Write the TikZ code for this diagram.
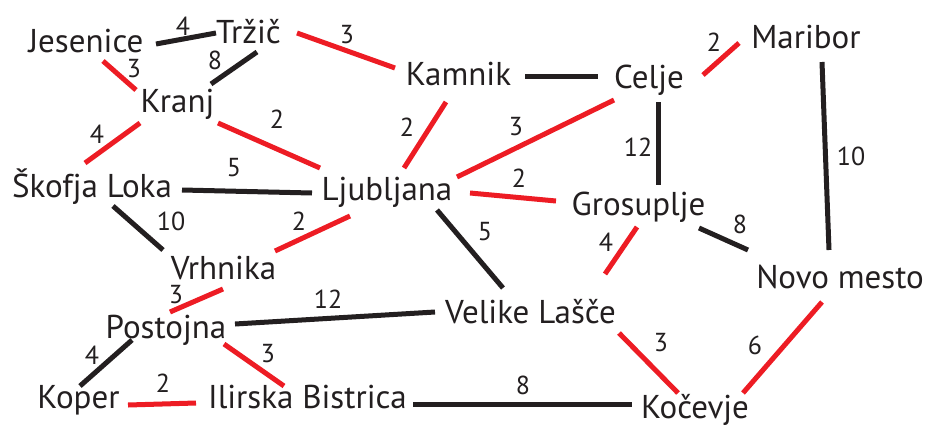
\documentclass[tikz,border=0pt]{standalone}
\usepackage{fontspec}
\setmainfont{PT Sans}
\definecolor{roadred}{HTML}{ED1C24}
\definecolor{roadblack}{HTML}{231F20}
% a road between two towns, ends given as offsets from each town's base point
\newcommand{\roadlink}[5]{\draw[#1] ([shift={(#3)}]#2.base) -- ([shift={(#5)}]#4.base);}
\begin{document}
\begin{tikzpicture}[x=1pt,y=-1pt,
  city/.style={anchor=base,inner sep=0pt,text=roadblack,font=\fontsize{33}{38}\selectfont},
  wt/.style={inner sep=0pt,text=roadblack,font=\fontsize{26}{31}\selectfont},
  redroad/.style={draw=roadred,line width=5pt},
  blackroad/.style={draw=roadblack,line width=5pt}]
\useasboundingbox (0,0) rectangle (931,426);

% towns
\node[city] (jes) at (86,52)    {Jesenice};
\node[city] (trz) at (248.5,43) {Tržič};
\node[city] (kra) at (177.5,112){Kranj};
\node[city] (kam) at (458.5,85) {Kamnik};
\node[city] (cel) at (649,88)   {Celje};
\node[city] (mar) at (806,48)   {Maribor};
\node[city] (nov) at (840,288)  {Novo mesto};
\node[city] (sko) at (92,197)   {Škofja Loka};
\node[city] (lju) at (387,200)  {Ljubljana};
\node[city] (vrh) at (223.5,279){Vrhnika};
\node[city] (gro) at (638.5,215){Grosuplje};
\node[city] (vel) at (530.5,323){Velike Lašče};
\node[city] (pos) at (166,338)  {Postojna};
\node[city] (kop) at (78.5,408) {Koper};
\node[city] (ilb) at (307.5,408){Ilirska Bistrica};
\node[city] (koc) at (695,418)  {Kočevje};

% roads
\roadlink{blackroad}{jes}{70,-8}{trz}{-32.5,-10}
\roadlink{redroad}{jes}{17,9}{kra}{-41.5,-22}
\roadlink{blackroad}{trz}{8.5,9}{kra}{33.5,-28}
\roadlink{redroad}{trz}{48.5,-10}{kam}{-63.5,-17}
\roadlink{redroad}{kra}{-37.5,11}{sko}{-7,-34}
\roadlink{redroad}{kra}{40.5,11}{lju}{-67,-32}
\roadlink{blackroad}{kam}{66.5,-9}{cel}{-51,-12}
\roadlink{redroad}{kam}{-12.5,17}{lju}{17,-32}
\roadlink{redroad}{cel}{-35,12}{lju}{70,-23}
\roadlink{redroad}{cel}{54,-13}{mar}{-67,-5}
\roadlink{blackroad}{cel}{9,14}{gro}{19.5,-30}
\roadlink{blackroad}{mar}{16,14}{nov}{-11,-38}
\roadlink{blackroad}{sko}{90,-7}{lju}{-75,-7}
\roadlink{blackroad}{sko}{21,9}{vrh}{-60.5,-29}
\roadlink{redroad}{lju}{-37,16}{vrh}{51.5,-28}
\roadlink{redroad}{lju}{83,-7}{gro}{-82.5,-14}
\roadlink{blackroad}{lju}{50,10}{vel}{-27.5,-35}
\roadlink{blackroad}{gro}{60.5,13}{nov}{-92,-38}
\roadlink{redroad}{gro}{-1.5,12}{vel}{74.5,-49}
\roadlink{redroad}{vrh}{-0.5,10}{pos}{4,-26}
\roadlink{blackroad}{pos}{69,-14}{vel}{-95.5,-11}
\roadlink{blackroad}{pos}{-34,2}{kop}{1.5,-22}
\roadlink{redroad}{pos}{58,6}{ilb}{-23.5,-22}
\roadlink{redroad}{kop}{49.5,-3}{ilb}{-111.5,-5}
\roadlink{blackroad}{ilb}{105.5,-4}{koc}{-63,-14}
\roadlink{redroad}{vel}{88.5,10}{koc}{-17,-25}
\roadlink{redroad}{nov}{-18,14}{koc}{48,-25}

% distances
\node[wt] (w1)  at (183,26)  {4};
\node[wt] (w2)  at (134,69)  {3};
\node[wt] (w3)  at (215,60)  {8};
\node[wt] (w4)  at (347,35)  {3};
\node[wt] (w5)  at (97,134)  {4};
\node[wt] (w6)  at (277,119) {2};
\node[wt] (w8)  at (407,127) {2};
\node[wt] (w9)  at (516,127) {3};
\node[wt] (w10) at (714,42)  {2};
\node[wt] (w11) at (638,147) {12};
\node[wt] (w12) at (851,156) {10};
\node[wt] (w13) at (234,168) {5};
\node[wt] (w14) at (171,221) {10};
\node[wt] (w15) at (299,221) {2};
\node[wt] (w16) at (519,178) {2};
\node[wt] (w17) at (485,232) {5};
\node[wt] (w18) at (740,224) {8};
\node[wt] (w19) at (606,242) {4};
\node[wt] (w20) at (176,295) {3};
\node[wt] (w21) at (328,299) {12};
\node[wt] (w22) at (92,355)  {4};
\node[wt] (w23) at (268,354) {3};
\node[wt] (w24) at (163,383) {2};
\node[wt] (w25) at (523,385) {8};
\node[wt] (w26) at (661,343) {3};
\node[wt] (w27) at (755,345) {6};
\end{tikzpicture}
\end{document}
